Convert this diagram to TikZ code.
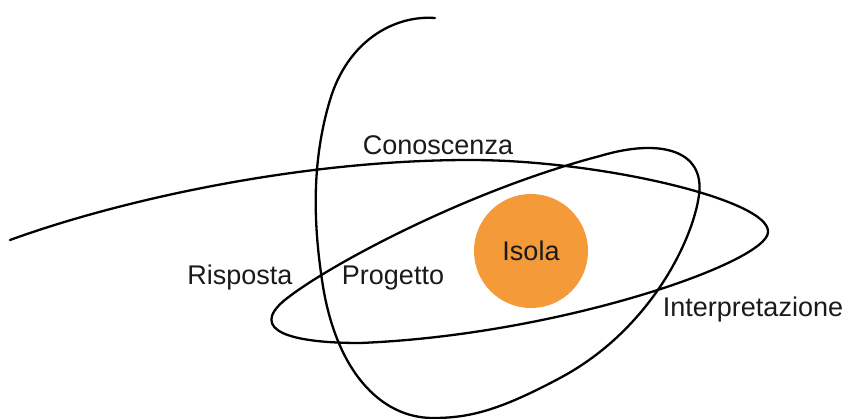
\documentclass[tikz,border=0pt]{standalone}
\usepackage{fontspec}
\setmainfont{Liberation Sans}
\definecolor{isolafill}{RGB}{244,154,56}
\definecolor{ink}{RGB}{26,26,26}
\begin{document}
\begin{tikzpicture}[x=1pt,y=-1pt,
  orbit/.style={line width=2.3pt, black, line cap=round, line join=round},
  lab/.style={font=\fontsize{27}{32}\selectfont, text=ink, inner sep=0pt, anchor=base}]
\useasboundingbox (0,0) rectangle (846,419);
\node[circle, fill=isolafill, minimum size=114pt, inner sep=0pt,
      font=\fontsize{27}{32}\selectfont, text=ink] (isola) at (531,251) {Isola};
\draw[orbit] (10,240)
  .. controls (120,200) and (300,160) .. (470,160)
  .. controls (600,160) and (770,200) .. (768,232)
  .. controls (768,262) and (560,335) .. (360,343)
  .. controls (275,343) and (250,325) .. (290,296)
  .. controls (335,262) and (470,190) .. (600,156)
  .. controls (660,138) and (705,150) .. (699,195)
  .. controls (693,240) and (650,330) .. (560,378)
  .. controls (500,410) and (470,418) .. (433,418)
  .. controls (380,418) and (335,370) .. (322,280)
  .. controls (313,220) and (312,160) .. (330,100)
  .. controls (348,40) and (395,15) .. (435,18);
\node[lab] (conoscenza) at (438,155) {Conoscenza};
\node[lab] (risposta) at (240,285) {Risposta};
\node[lab] (progetto) at (393,285) {Progetto};
\node[lab] (interpretazione) at (753,317) {Interpretazione};
\end{tikzpicture}
\end{document}
